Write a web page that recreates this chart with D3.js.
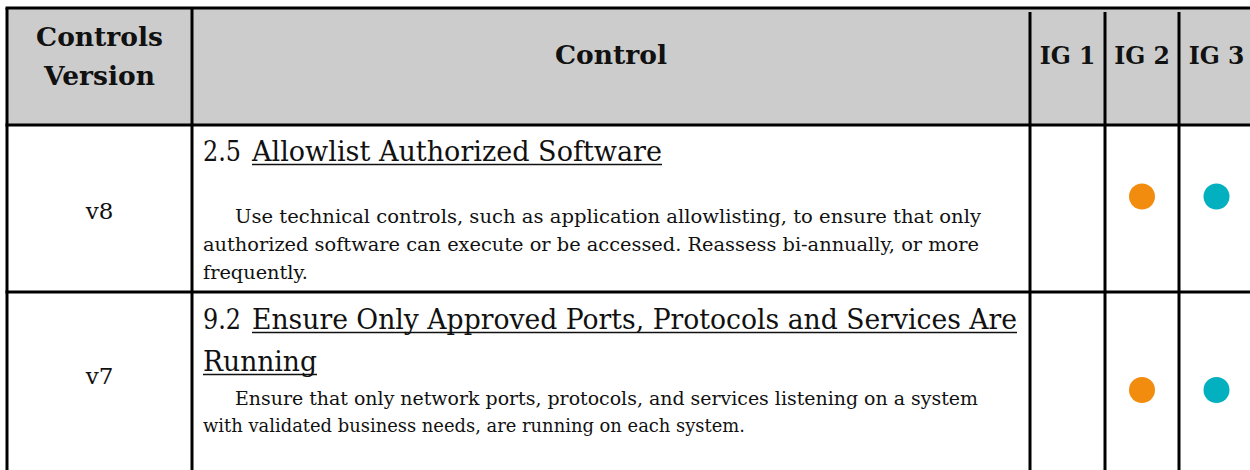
<!DOCTYPE html>
<html>
<head>
<meta charset="utf-8">
<script src="https://cdn.jsdelivr.net/npm/d3@7"></script>
<style>
  html, body { margin: 0; padding: 0; background: #ffffff; }
  svg { display: block; }
</style>
</head>
<body>
<svg id="chart" width="1250" height="470"></svg>
<script>
// ---------------- data ----------------
const headerLabels = [["Controls", "Version"], ["Control"], ["IG 1"], ["IG 2"], ["IG 3"]];
const versions = ["v8", "v7"];
const controlIds = ["2.5", "9.2"];
const controlTitles = [
  ["Allowlist Authorized Software"],
  ["Ensure Only Approved Ports, Protocols and Services Are", "Running"]
];
const controlDescriptions = [
  ["Use technical controls, such as application allowlisting, to ensure that only",
   "authorized software can execute or be accessed. Reassess bi-annually, or more",
   "frequently."],
  ["Ensure that only network ports, protocols, and services listening on a system",
   "with validated business needs, are running on each system."]
];
const ig1 = [false, false];
const ig2 = [true, true];
const ig3 = [true, true];

// ---------------- layout ----------------
const colEdges = [7, 192, 1030, 1105, 1179, 1254];
const rowEdges = [8, 125, 292, 474];
const serif = "'DejaVu Serif', 'Liberation Serif', serif";
const textX = 203, indentX = 235;
const rowText = [
  { idW: 38, titleX: 252, titleBase: [161], titleW: [410],
    descBase: [223, 251, 279], descW: [746, 776, 105], verBase: 219 },
  { idW: 38, titleX: 252, titleBase: [329, 371], titleW: [765, 114],
    descBase: [405, 432], descW: [743, 542], verBase: 384 }
];
const igColors = { ig2: "#f28c0f", ig3: "#02b0c0" };

const svg = d3.select("#chart");

const x = d3.scaleOrdinal().domain(d3.range(colEdges.length)).range(colEdges);
const y = d3.scaleOrdinal().domain(d3.range(rowEdges.length)).range(rowEdges);
const colMid = i => (x(i) + x(i + 1)) / 2;

// header background
svg.append("rect")
  .attr("x", x(0)).attr("y", y(0))
  .attr("width", x(5) - x(0)).attr("height", y(1) - y(0))
  .attr("fill", "#cccccc");

// header labels
const headerBase = [[46, 85], [64], [64], [64], [64]];
headerLabels.forEach((lines, ci) => {
  lines.forEach((t, li) => {
    svg.append("text")
      .attr("x", colMid(ci)).attr("y", headerBase[ci][li])
      .attr("text-anchor", "middle")
      .attr("font-family", serif).attr("font-weight", "bold")
      .attr("font-size", ci >= 2 ? 23.5 : 26.5)
      .attr("fill", "#111")
      .text(t);
  });
});

// body rows
versions.forEach((v, ri) => {
  const g = rowText[ri];
  svg.append("text")
    .attr("x", colMid(0)).attr("y", g.verBase)
    .attr("text-anchor", "middle")
    .attr("font-family", serif).attr("font-size", 23)
    .attr("fill", "#111").text(v);

  // id
  svg.append("text")
    .attr("x", textX).attr("y", g.titleBase[0])
    .attr("font-family", serif).attr("font-size", 27.5)
    .attr("textLength", g.idW).attr("lengthAdjust", "spacingAndGlyphs")
    .attr("fill", "#111").text(controlIds[ri]);

  controlTitles[ri].forEach((t, li) => {
    const tx = li === 0 ? g.titleX : textX;
    svg.append("text")
      .attr("x", tx).attr("y", g.titleBase[li])
      .attr("font-family", serif).attr("font-size", 27.5)
      .attr("textLength", g.titleW[li]).attr("lengthAdjust", "spacingAndGlyphs")
      .attr("fill", "#111").text(t);
    svg.append("line")
      .attr("x1", tx).attr("x2", tx + g.titleW[li])
      .attr("y1", g.titleBase[li] + 3.5).attr("y2", g.titleBase[li] + 3.5)
      .attr("stroke", "#111").attr("stroke-width", 1.6);
  });

  controlDescriptions[ri].forEach((t, li) => {
    svg.append("text")
      .attr("x", li === 0 ? indentX : textX).attr("y", g.descBase[li])
      .attr("font-family", serif).attr("font-size", 18.5)
      .attr("textLength", g.descW[li]).attr("lengthAdjust", "spacingAndGlyphs")
      .attr("fill", "#111").text(t);
  });

  const cy = (y(ri + 1) + y(ri + 2)) / 2 + (ri === 0 ? -12 : 7);
  [[ig1, 2, null], [ig2, 3, igColors.ig2], [ig3, 4, igColors.ig3]].forEach(([arr, ci, col]) => {
    if (arr[ri]) {
      svg.append("circle")
        .attr("cx", colMid(ci)).attr("cy", cy).attr("r", 13)
        .attr("fill", col);
    }
  });
});

// grid lines
const lineStyle = sel => sel.attr("stroke", "#000").attr("stroke-width", 3);
rowEdges.slice(0, 3).forEach((ry, i) => {
  svg.append("line").call(lineStyle)
    .attr("x1", x(0) - 1.5).attr("x2", 1250)
    .attr("y1", ry).attr("y2", ry);
});
colEdges.slice(0, 5).forEach((cx, i) => {
  svg.append("line").call(lineStyle)
    .attr("x1", cx).attr("x2", cx)
    .attr("y1", y(0) + (i >= 2 ? 4 : 0)).attr("y2", 470);
});
</script>
</body>
</html>
